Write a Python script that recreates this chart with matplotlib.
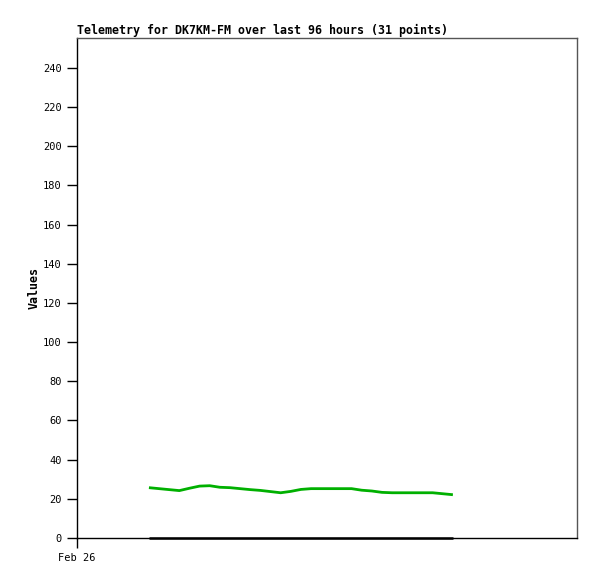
import matplotlib
matplotlib.use("Agg")
import matplotlib.pyplot as plt

# hours since Feb 26 00:00, one reading every 2 hours
hours = [14.2, 16.2, 18.2, 20.2, 22.2, 24.2, 26.2, 28.2, 30.2, 32.2,
         34.2, 36.2, 38.2, 40.2, 42.2, 44.2, 46.2, 48.2, 50.2, 52.2,
         54.2, 56.2, 58.2, 60.2, 62.2, 64.2, 66.2, 68.2, 70.2, 72.2, 74.2]
temp = [25.7, 25.2, 24.7, 24.2, 25.4, 26.5, 26.7, 25.9, 25.7, 25.2,
        24.7, 24.3, 23.7, 23.1, 23.8, 24.8, 25.2, 25.2, 25.2, 25.2,
        25.2, 24.4, 24.0, 23.3, 23.1, 23.1, 23.1, 23.1, 23.1, 22.6, 22.1]
other = [0.0] * 31

x_ticks = [0]
x_labels = ["Feb 26"]
y_ticks = list(range(0, 241, 20))

mono = "DejaVu Sans Mono"

fig = plt.figure(figsize=(5.97, 5.79), dpi=100)
ax = fig.add_axes([77 / 597, 41 / 579, 500 / 597, 500 / 579])

ax.plot(hours, other, color="black", linewidth=1.8, solid_capstyle="butt", clip_on=False, zorder=3)
ax.plot(hours, temp, color="#00b000", linewidth=2.0, solid_capstyle="butt")

ax.set_xlim(0, 98.7)
ax.set_ylim(0, 255.3)
ax.set_xticks(x_ticks)
ax.set_xticklabels(x_labels, fontfamily=mono, fontsize=7.5)
ax.set_yticks(y_ticks)
ax.set_yticklabels([str(v) for v in y_ticks], fontfamily=mono, fontsize=7.5)
ax.tick_params(axis="both", direction="out", length=7, width=1, color="black", pad=4)

for side in ["top", "right"]:
    ax.spines[side].set_color("#555555")
for side in ["left", "bottom"]:
    ax.spines[side].set_color("black")
for s in ax.spines.values():
    s.set_linewidth(1)

ax.set_title("Telemetry for DK7KM-FM over last 96 hours (31 points)",
             loc="left", fontfamily=mono, fontweight="bold", fontsize=8.35, pad=3)
ax.set_ylabel("Values", fontfamily=mono, fontweight="bold", fontsize=8.35, labelpad=2)

plt.savefig("out.png", dpi=100)
